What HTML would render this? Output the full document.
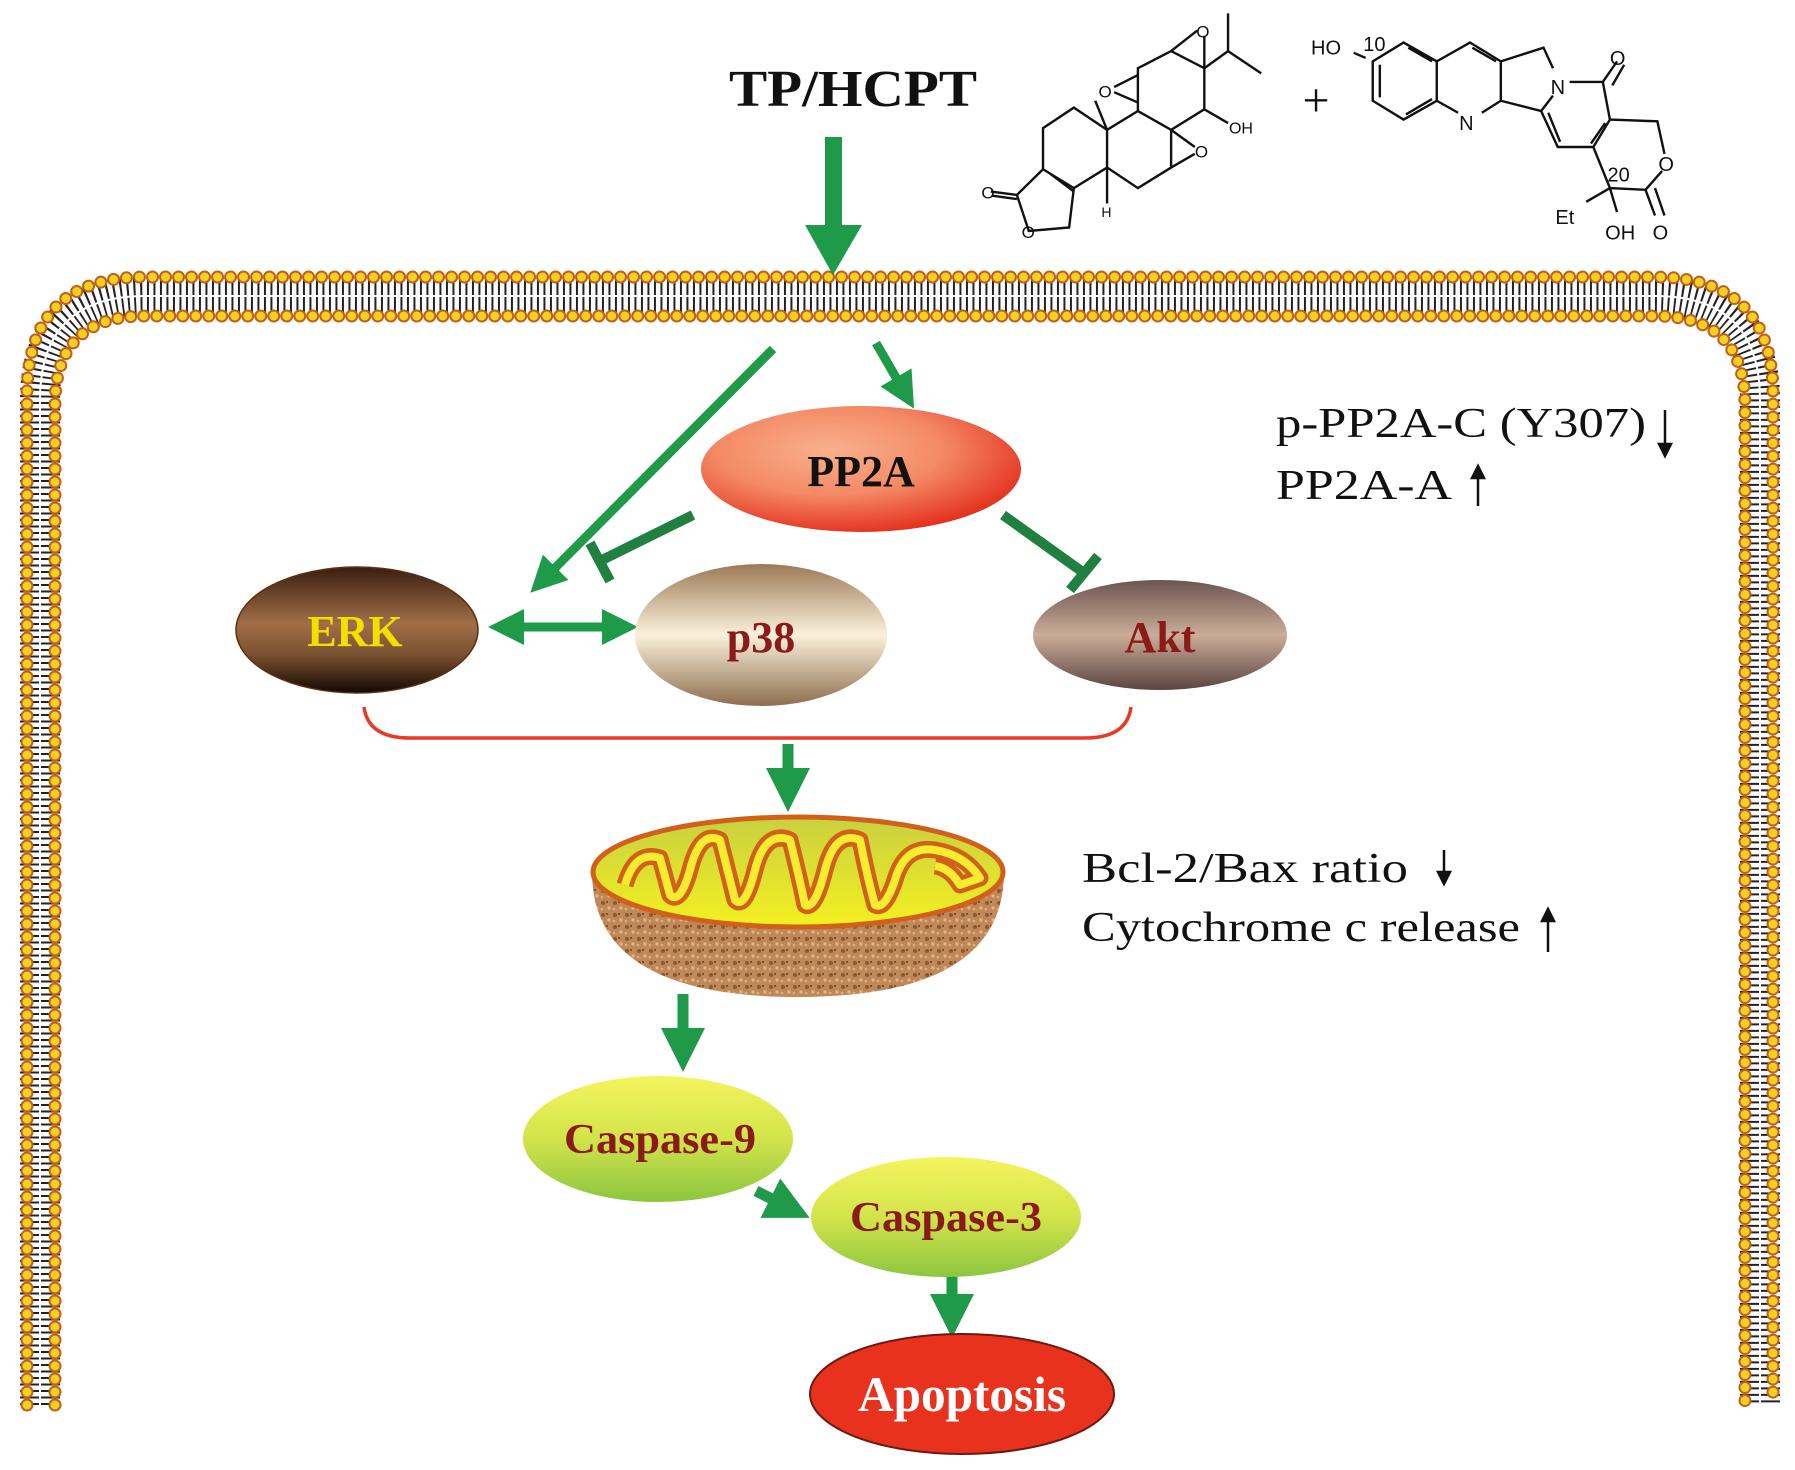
<!DOCTYPE html>
<html><head><meta charset="utf-8"><style>
html,body{margin:0;padding:0;background:#fff}
svg{display:block}
.s{font-family:"Liberation Serif",serif}
.a{font-family:"Liberation Sans",sans-serif}
</style></head><body>
<svg width="1795" height="1470" viewBox="0 0 1795 1470" xmlns="http://www.w3.org/2000/svg">
<defs>
<radialGradient id="gPP" cx="0.4" cy="0.35" r="0.7">
<stop offset="0" stop-color="#f9b08c"/><stop offset="0.5" stop-color="#f48a66"/><stop offset="1" stop-color="#e22a18"/></radialGradient>
<linearGradient id="gERK" x1="0" y1="0" x2="0" y2="1">
<stop offset="0" stop-color="#3a1e10"/><stop offset="0.45" stop-color="#a06f48"/><stop offset="0.7" stop-color="#7a5030"/><stop offset="1" stop-color="#120804"/></linearGradient>
<linearGradient id="gP38" x1="0" y1="0" x2="0" y2="1">
<stop offset="0" stop-color="#9c7a56"/><stop offset="0.5" stop-color="#fbf1da"/><stop offset="1" stop-color="#8c6e4e"/></linearGradient>
<linearGradient id="gAkt" x1="0" y1="0" x2="0" y2="1">
<stop offset="0" stop-color="#6a5550"/><stop offset="0.5" stop-color="#cbac98"/><stop offset="1" stop-color="#5a4540"/></linearGradient>
<linearGradient id="gCas" x1="0" y1="0" x2="0" y2="1">
<stop offset="0" stop-color="#f4f45e"/><stop offset="0.5" stop-color="#d2e44a"/><stop offset="1" stop-color="#8cc63f"/></linearGradient>
<linearGradient id="gMitoIn" x1="0" y1="0" x2="0" y2="1">
<stop offset="0" stop-color="#c8d040"/><stop offset="1" stop-color="#f4f020"/></linearGradient>
<pattern id="cork" width="12" height="12" patternUnits="userSpaceOnUse">
<rect width="12" height="12" fill="#c08858"/><circle cx="3" cy="3" r="2" fill="#8a5a30"/><circle cx="9" cy="8" r="1.6" fill="#e0b888"/><circle cx="7" cy="2" r="1" fill="#6a4020"/><circle cx="2" cy="9" r="1.3" fill="#dcae80"/></pattern>
<marker id="ah" markerWidth="4" markerHeight="4" refX="2" refY="2" orient="auto" markerUnits="strokeWidth" viewBox="0 0 4 4"><path d="M0,0 L4,2 L0,4 z" fill="#1e9a48"/></marker>
<marker id="ahs" markerWidth="4" markerHeight="4" refX="2" refY="2" orient="auto-start-reverse" markerUnits="strokeWidth" viewBox="0 0 4 4"><path d="M0,0 L4,2 L0,4 z" fill="#1e9a48"/></marker>
</defs>

<!-- membrane -->
<g fill="none">
<path d="M40,1405 L40,400 Q40,296 145,296 L1655,296 Q1760,296 1760,400 L1760,1405" stroke="#222" stroke-width="40" stroke-dasharray="2 4.5"/>
<path d="M40,1405 L40,400 Q40,296 145,296 L1655,296 Q1760,296 1760,400 L1760,1405" stroke="#fff" stroke-width="2"/>
<path d="M27,1405 L27,395 Q27,277 145,277 L1655,277 Q1773,277 1773,395 L1773,1405" stroke="#c0601a" stroke-width="13" stroke-linecap="round" stroke-dasharray="0 13"/>
<path d="M27,1405 L27,395 Q27,277 145,277 L1655,277 Q1773,277 1773,395 L1773,1405" stroke="#f4d020" stroke-width="9" stroke-linecap="round" stroke-dasharray="0 13"/>
<path d="M55,1405 L55,405 Q55,316 145,316 L1655,316 Q1745,316 1745,405 L1745,1405" stroke="#c0601a" stroke-width="13" stroke-linecap="round" stroke-dasharray="0 13"/>
<path d="M55,1405 L55,405 Q55,316 145,316 L1655,316 Q1745,316 1745,405 L1745,1405" stroke="#f4d020" stroke-width="9" stroke-linecap="round" stroke-dasharray="0 13"/>
</g>

<!-- title -->
<text class="s" x="853" y="106" font-size="52" font-weight="bold" text-anchor="middle" fill="#111" textLength="248" lengthAdjust="spacingAndGlyphs">TP/HCPT</text>
<text class="s" x="1316" y="116" font-size="48" text-anchor="middle" fill="#111">+</text>
<rect x="825" y="137" width="17" height="90" fill="#1e9a48"/>
<path d="M805,225 L862,225 L833,275 z" fill="#1e9a48"/>

<!-- chemical structures -->
<g transform="translate(960,10) scale(0.4744,0.3425)" fill="none" stroke="#111" stroke-width="2.4">
<path vector-effect="non-scaling-stroke" d="M175,345 L240,285 L310,350 L310,460 L240,520 L175,465 Z"/>
<path vector-effect="non-scaling-stroke" d="M310,350 L375,295 L445,350 L445,460 L375,520 L310,460"/>
<path vector-effect="non-scaling-stroke" d="M375,295 L375,170 L445,120 L515,170 L515,290 L445,350"/>
<path vector-effect="non-scaling-stroke" d="M175,465 L120,540 L145,645 L230,635 L240,520 M120,540 L65,530 M120,552 L68,542 M190,478 L240,530"/>
<path vector-effect="non-scaling-stroke" d="M375,190 L325,225 M375,270 L325,240 M310,350 L285,265 M310,460 L310,565"/>
<path vector-effect="non-scaling-stroke" d="M445,350 L495,400 M445,460 L495,420 M515,290 L565,330 M445,120 L500,60 M515,170 L515,75 M515,170 L565,120 L565,10 M565,120 L635,185"/>
<path vector-effect="non-scaling-stroke" d="M870,265 L870,150 L935,95 L1005,150 L1005,265 L935,320 Z M885,255 L885,160 M940,305 L995,260 M945,110 L995,150"/>
<path vector-effect="non-scaling-stroke" d="M1005,150 L1075,95 L1140,150 L1140,265 L1100,300 M1050,300 L1005,265 M1080,110 L1130,150"/>
<path vector-effect="non-scaling-stroke" d="M1140,150 L1230,110 L1250,170 M1250,250 L1225,295 L1140,265 M1285,210 L1355,210 L1370,320 L1335,400 L1260,400 L1225,295 M1355,210 L1385,150 M1375,220 L1400,160 M1360,330 L1330,390 M1240,300 L1265,385"/>
<path vector-effect="non-scaling-stroke" d="M1370,320 L1470,325 L1485,420 M1480,470 L1445,525 L1370,520 L1335,400 M1445,525 L1465,600 M1465,520 L1485,600 M1370,520 L1385,590 M1370,520 L1320,560 M855,140 L830,125"/>
<g fill="#111" stroke="none" class="a">
<text transform="translate(292,255) scale(2.108,2.92)" font-size="17">O</text>
<text transform="translate(498,80) scale(2.108,2.92)" font-size="17">O</text>
<text transform="translate(495,430) scale(2.108,2.92)" font-size="17">O</text>
<text transform="translate(567,360) scale(2.108,2.92)" font-size="16">OH</text>
<text transform="translate(45,550) scale(2.108,2.92)" font-size="17">O</text>
<text transform="translate(130,665) scale(2.108,2.92)" font-size="17">O</text>
<text transform="translate(298,605) scale(2.108,2.92)" font-size="14">H</text>
<text transform="translate(740,130) scale(2.108,2.92)" font-size="20">HO</text>
<text transform="translate(850,120) scale(2.108,2.92)" font-size="20">10</text>
<text transform="translate(1052,350) scale(2.108,2.92)" font-size="20">N</text>
<text transform="translate(1245,245) scale(2.108,2.92)" font-size="20">N</text>
<text transform="translate(1370,160) scale(2.108,2.92)" font-size="20">O</text>
<text transform="translate(1472,470) scale(2.108,2.92)" font-size="20">O</text>
<text transform="translate(1365,500) scale(2.108,2.92)" font-size="20">20</text>
<text transform="translate(1255,625) scale(2.108,2.92)" font-size="20">Et</text>
<text transform="translate(1360,670) scale(2.108,2.92)" font-size="20">OH</text>
<text transform="translate(1460,670) scale(2.108,2.92)" font-size="20">O</text>
</g>
</g>

<!-- arrows to PP2A & ERK -->
<g stroke="#1e9a48" stroke-width="9" fill="none">
<line x1="773" y1="349" x2="543" y2="580" marker-end="url(#ah)"/>
<line x1="876" y1="343" x2="905" y2="393" marker-end="url(#ah)"/>
<line x1="506" y1="627" x2="620" y2="627" marker-end="url(#ah)" marker-start="url(#ahs)"/>
</g>
<g stroke="#1f8040" stroke-width="10" fill="none">
<line x1="693" y1="515" x2="600" y2="561"/>
<line x1="590" y1="543" x2="610" y2="581"/>
<line x1="1003" y1="515" x2="1084" y2="573"/>
<line x1="1070" y1="590" x2="1098" y2="556"/>
</g>

<!-- nodes -->
<g class="s" font-weight="bold" text-anchor="middle">
<ellipse cx="861" cy="469" rx="160" ry="63" fill="url(#gPP)"/>
<text x="861" y="486" font-size="44" fill="#111">PP2A</text>
<ellipse cx="357" cy="630" rx="121" ry="63" fill="url(#gERK)" stroke="#5a3010" stroke-width="1.5"/>
<text x="355" y="646" font-size="44" fill="#f2e000">ERK</text>
<ellipse cx="761" cy="635" rx="126" ry="71" fill="url(#gP38)"/>
<text x="761" y="652" font-size="44" fill="#8b1a1a">p38</text>
<ellipse cx="1160" cy="635" rx="127" ry="55" fill="url(#gAkt)"/>
<text x="1160" y="652" font-size="44" fill="#8b1a1a">Akt</text>
</g>

<!-- bracket -->
<path d="M364,707 Q368,738 410,738 L1085,738 Q1127,738 1131,707" fill="none" stroke="#e83a25" stroke-width="3.5"/>
<g stroke="#1e9a48" stroke-width="11" fill="none">
<line x1="788" y1="744" x2="788" y2="790" marker-end="url(#ah)"/>
<line x1="683" y1="994" x2="683" y2="1050" marker-end="url(#ah)"/>
<line x1="756" y1="1191" x2="790" y2="1208" marker-end="url(#ah)"/>
<line x1="952" y1="1276" x2="952" y2="1316" marker-end="url(#ah)"/>
</g>

<!-- mitochondrion -->
<path d="M592,872 Q592,997 798,997 Q1004,997 1004,872 Z" fill="url(#cork)"/>
<ellipse cx="798" cy="872" rx="205" ry="55" fill="url(#gMitoIn)" stroke="#d0601a" stroke-width="5"/>
<path d="M625,885 Q635,850 660,858 L670,895 Q680,905 690,870 Q700,830 720,840 Q730,880 735,900 Q745,910 755,870 Q765,830 790,840 Q800,880 805,905 Q815,910 825,870 Q835,830 860,840 Q868,880 875,905 Q885,910 895,880 Q905,845 935,850 Q965,855 980,878 L960,885 Q950,868 935,866" fill="none" stroke="#d0601a" stroke-width="17" stroke-linejoin="round"/>
<path d="M625,885 Q635,850 660,858 L670,895 Q680,905 690,870 Q700,830 720,840 Q730,880 735,900 Q745,910 755,870 Q765,830 790,840 Q800,880 805,905 Q815,910 825,870 Q835,830 860,840 Q868,880 875,905 Q885,910 895,880 Q905,845 935,850 Q965,855 980,878 L960,885 Q950,868 935,866" fill="none" stroke="#f8ec30" stroke-width="8" stroke-linejoin="round"/>

<!-- side text -->
<g class="s" font-size="42" fill="#111">
<text x="1276" y="437" textLength="370" lengthAdjust="spacingAndGlyphs">p-PP2A-C (Y307)</text>
<text x="1276" y="499" textLength="176" lengthAdjust="spacingAndGlyphs">PP2A-A</text>
<text x="1082" y="882" textLength="326" lengthAdjust="spacingAndGlyphs">Bcl-2/Bax  ratio</text>
<text x="1082" y="941" textLength="438" lengthAdjust="spacingAndGlyphs">Cytochrome c release</text>
</g>
<g stroke="#111" stroke-width="2.5" fill="#111">
<line x1="1665" y1="410" x2="1665" y2="450"/><path d="M1659,444 L1665,456 L1671,444 z"/>
<line x1="1478" y1="472" x2="1478" y2="506"/><path d="M1472,478 L1478,466 L1484,478 z"/>
<line x1="1444" y1="850" x2="1444" y2="878"/><path d="M1438,872 L1444,884 L1450,872 z"/>
<line x1="1548" y1="915" x2="1548" y2="952"/><path d="M1542,921 L1548,909 L1554,921 z"/>
</g>

<!-- caspases -->
<g class="s" font-weight="bold" text-anchor="middle">
<ellipse cx="658" cy="1139" rx="135" ry="63" fill="url(#gCas)"/>
<text x="660" y="1153" font-size="42" fill="#8b1a1a" textLength="192" lengthAdjust="spacingAndGlyphs">Caspase-9</text>
<ellipse cx="946" cy="1217" rx="135" ry="60" fill="url(#gCas)"/>
<text x="946" y="1231" font-size="42" fill="#8b1a1a" textLength="192" lengthAdjust="spacingAndGlyphs">Caspase-3</text>
<ellipse cx="962" cy="1394" rx="152" ry="60" fill="#e8321e" stroke="#6a1a10" stroke-width="2"/>
<text x="962" y="1411" font-size="50" fill="#fff" textLength="208" lengthAdjust="spacingAndGlyphs">Apoptosis</text>
</g>
</svg>
</body></html>
